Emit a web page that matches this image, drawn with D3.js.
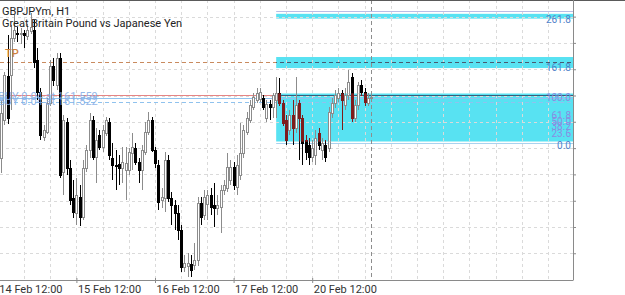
<!DOCTYPE html>
<html>
<head>
<meta charset="utf-8">
<script src="https://cdn.jsdelivr.net/npm/d3@7"></script>
<style>
  body { margin: 0; background: #fff; }
  svg { display: block; font-family: Roboto, "Noto Sans", sans-serif; }
</style>
</head>
<body>
<svg width="625" height="295"></svg>
<script>
// GBPJPYm H1 bars, index 0 = 14 Feb 12:00
var open = [161.460,161.076,161.380,161.732,161.740,162.036,162.076,162.068,162.076,162.052,
  162.092,162.100,161.860,161.604,161.244,161.284,161.516,161.812,161.660,161.876,
  160.964,161.364,160.996,160.756,160.636,160.764,160.604,160.996,161.140,161.380,
  161.084,161.260,161.164,161.276,161.364,161.076,161.020,161.028,160.996,160.980,
  160.980,161.116,161.156,161.044,160.980,161.124,161.284,161.380,161.140,161.020,
  160.740,160.756,161.060,160.756,160.700,160.636,160.500,160.204,160.212,160.228,
  160.220,160.260,160.716,160.620,160.708,160.780,160.700,160.676,160.684,160.820,
  160.836,160.900,161.004,160.844,160.940,161.116,161.284,161.380,161.484,161.540,
  161.548,161.556,161.396,161.508,161.484,161.540,161.596,161.516,161.380,161.300,
  161.420,161.316,161.516,161.396,161.220,161.180,161.084,161.100,161.276,161.140,
  161.180,161.156,161.436,161.516,161.556,161.596,161.500,161.580,161.724,161.396,
  161.500,161.660,161.604,161.516,161.556];
var high = [161.540,161.540,161.764,162.060,162.140,162.220,162.124,162.116,162.100,162.148,
  162.236,162.180,161.956,161.636,161.340,161.556,161.860,161.876,161.916,161.916,
  161.420,161.396,161.060,160.900,160.916,160.860,161.060,161.180,161.436,161.412,
  161.316,161.300,161.340,161.404,161.396,161.196,161.140,161.100,161.164,161.164,
  161.156,161.276,161.196,161.076,161.180,161.364,161.444,161.404,161.164,161.060,
  160.836,161.124,161.100,160.804,160.740,160.700,160.540,160.300,160.316,160.300,
  160.396,160.764,160.764,160.820,160.820,160.836,160.876,160.780,160.860,160.900,
  161.116,161.060,161.044,161.100,161.356,161.340,161.444,161.540,161.596,161.636,
  161.636,161.580,161.540,161.540,161.596,161.724,161.716,161.540,161.420,161.460,
  161.540,161.724,161.540,161.420,161.260,161.236,161.220,161.300,161.316,161.236,
  161.220,161.484,161.556,161.620,161.636,161.620,161.636,161.780,161.756,161.540,
  161.684,161.700,161.636,161.596,161.580];
var low = [161.020,160.956,161.340,161.348,161.460,162.004,162.004,161.988,161.956,162.020,
  162.068,161.796,161.540,161.220,161.212,161.268,161.492,161.652,161.620,160.916,
  160.780,160.940,160.700,160.596,160.540,160.532,160.580,160.964,161.076,161.060,
  160.876,161.140,161.124,161.252,161.060,160.900,160.820,160.860,160.876,160.740,
  160.940,160.980,161.020,160.876,160.820,161.100,161.260,161.124,160.996,160.660,
  160.676,160.644,160.724,160.540,160.500,160.420,160.164,160.164,160.124,160.124,
  160.180,160.212,160.540,160.580,160.580,160.620,160.524,160.620,160.476,160.780,
  160.804,160.860,160.820,160.780,160.900,161.076,161.260,161.356,161.460,161.516,
  161.524,161.460,161.364,161.380,161.396,161.396,161.492,161.332,161.180,161.260,
  161.180,161.276,161.060,161.020,161.060,161.020,161.044,161.020,161.140,161.060,
  161.044,161.124,161.396,161.476,161.524,161.300,161.460,161.540,161.364,161.364,
  161.460,161.572,161.492,161.492,161.540];
var close = [161.076,161.436,161.740,161.396,162.036,162.100,162.068,162.076,162.060,162.100,
  162.124,161.844,161.604,161.260,161.300,161.516,161.812,161.700,161.876,160.940,
  161.380,160.996,160.740,160.644,160.780,160.604,160.996,161.140,161.380,161.084,
  161.220,161.164,161.300,161.380,161.100,161.020,161.012,160.996,161.044,161.036,
  161.124,161.164,161.044,160.980,161.140,161.284,161.380,161.140,161.036,160.724,
  160.764,161.060,160.756,160.700,160.636,160.500,160.204,160.236,160.236,160.180,
  160.260,160.716,160.604,160.764,160.780,160.684,160.676,160.700,160.820,160.860,
  161.004,161.004,160.860,161.020,161.116,161.300,161.396,161.500,161.564,161.596,
  161.604,161.484,161.508,161.484,161.580,161.596,161.516,161.356,161.220,161.420,
  161.316,161.500,161.396,161.196,161.124,161.084,161.156,161.236,161.180,161.196,
  161.084,161.444,161.516,161.580,161.596,161.540,161.580,161.684,161.396,161.500,
  161.660,161.604,161.524,161.556,161.564];

var timeIdx = [0, 24, 48, 72, 96];
var timeLabels = ["14 Feb 12:00", "15 Feb 12:00", "16 Feb 12:00", "17 Feb 12:00", "20 Feb 12:00"];
var gridPrices = [160.314,160.524,160.734,160.945,161.155,161.366,161.576,161.786,161.997,162.207];

// trade lines
var askPrice = 161.580;
var buyPrices = [161.559, 161.522];
var buyLabels = ["BUY 0.04 at 161.559", "BUY 0.04 at 161.522"];
var tpPrice = 161.844;

// fibonacci object
var fibStartIdx = 85;
var fib0 = 161.208, fib100 = 161.592;
var fibLevels = [261.8, 161.8, 100.0, 61.8, 50.0, 38.2, 23.6, 0.0];
var fibBands = [[0, 100], [153, 176], [256, 266]];
var fibTopLine = 271;

var svg = d3.select("svg"),
    plotRight = 573, plotBottom = 280;

var x = d3.scaleLinear().domain([0, 176]).range([-2.2, 574.2]);
var y = d3.scaleLinear().domain([160.100, 162.340]).range([280, 0]);
var fibY = function(l) { return y(fib0 + (fib100 - fib0) * l / 100); };

var defs = svg.append("defs");
defs.append("clipPath").attr("id", "plotclip")
  .append("rect").attr("x", 0).attr("y", 0).attr("width", plotRight).attr("height", plotBottom);
defs.append("clipPath").attr("id", "boxclip")
  .append("rect").attr("x", x(fibStartIdx)).attr("y", fibY(100)).attr("width", plotRight - x(fibStartIdx))
  .attr("height", fibY(0) - fibY(100));
defs.append("clipPath").attr("id", "bandclip")
  .selectAll("rect").data(fibBands).enter().append("rect")
  .attr("x", x(fibStartIdx)).attr("width", plotRight - x(fibStartIdx))
  .attr("y", function(d) { return fibY(d[1]); })
  .attr("height", function(d) { return fibY(d[0]) - fibY(d[1]); });

var plot = svg.append("g").attr("clip-path", "url(#plotclip)");

// fib fills
plot.selectAll(".band").data(fibBands).enter().append("rect")
  .attr("x", x(fibStartIdx)).attr("width", plotRight - x(fibStartIdx))
  .attr("y", function(d) { return fibY(d[1]); })
  .attr("height", function(d) { return fibY(d[0]) - fibY(d[1]); })
  .attr("fill", "#58e2f2");

// grid
plot.selectAll(".hgrid").data(gridPrices).enter().append("line")
  .attr("x1", 0).attr("x2", plotRight)
  .attr("y1", function(d) { return Math.round(y(d)) + 0.5; })
  .attr("y2", function(d) { return Math.round(y(d)) + 0.5; })
  .attr("stroke", "#dadada").attr("stroke-dasharray", "3,3");
plot.selectAll(".vgrid").data(d3.range(8, 176, 8)).enter().append("line")
  .attr("x1", function(d) { return Math.round(x(d)) + 0.5; })
  .attr("x2", function(d) { return Math.round(x(d)) + 0.5; })
  .attr("y1", 0).attr("y2", plotBottom)
  .attr("stroke", "#dadada").attr("stroke-dasharray", "3,3");

// fib level lines
plot.append("line")
  .attr("x1", x(fibStartIdx)).attr("x2", plotRight)
  .attr("y1", Math.round(fibY(fibTopLine)) + 0.5).attr("y2", Math.round(fibY(fibTopLine)) + 0.5)
  .attr("stroke", "#b9bde6");
plot.append("line")
  .attr("x1", x(fibStartIdx)).attr("x2", plotRight)
  .attr("y1", Math.round(fibY(0)) + 1.5).attr("y2", Math.round(fibY(0)) + 1.5)
  .attr("stroke", "#a9d2ef");

// last bar marker
plot.append("line")
  .attr("x1", Math.round(x(open.length - 1)) + 0.5).attr("x2", Math.round(x(open.length - 1)) + 0.5)
  .attr("y1", 0).attr("y2", plotBottom)
  .attr("stroke", "#8d8d8d").attr("stroke-dasharray", "4,3");

// TP, buy, ask lines
plot.append("line")
  .attr("x1", 0).attr("x2", plotRight)
  .attr("y1", Math.round(y(tpPrice)) + 0.5).attr("y2", Math.round(y(tpPrice)) + 0.5)
  .attr("stroke", "#c98a5e").attr("stroke-dasharray", "4,3");
plot.append("line").attr("clip-path", "url(#bandclip)")
  .attr("x1", 0).attr("x2", plotRight)
  .attr("y1", Math.round(y(tpPrice)) + 0.5).attr("y2", Math.round(y(tpPrice)) + 0.5)
  .attr("stroke", "#4a5a70").attr("stroke-dasharray", "4,3");

plot.selectAll(".buy").data(buyPrices).enter().append("line")
  .attr("x1", 0).attr("x2", plotRight)
  .attr("y1", function(d) { return Math.round(y(d)) + 0.5; })
  .attr("y2", function(d) { return Math.round(y(d)) + 0.5; })
  .attr("stroke", "#8fc2ee")
  .attr("stroke-dasharray", function(d, i) { return i ? "4,3" : null; });

plot.append("line")
  .attr("x1", 0).attr("x2", plotRight)
  .attr("y1", Math.round(y(askPrice)) + 0.5).attr("y2", Math.round(y(askPrice)) + 0.5)
  .attr("stroke", "#e58585");
plot.append("line").attr("clip-path", "url(#boxclip)")
  .attr("x1", 0).attr("x2", plotRight)
  .attr("y1", Math.round(y(askPrice)) + 0.5).attr("y2", Math.round(y(askPrice)) + 0.5)
  .attr("stroke", "#3b5d78");

// candles
var bars = d3.range(open.length).map(function(i) {
  return {i: i, o: open[i], h: high[i], l: low[i], c: close[i]};
});

function drawCandles(g, bearColor) {
  var c = g.selectAll(".candle").data(bars).enter().append("g");
  c.append("line")
    .attr("x1", function(d) { return Math.round(x(d.i)) + 0.5; })
    .attr("x2", function(d) { return Math.round(x(d.i)) + 0.5; })
    .attr("y1", function(d) { return y(d.h); })
    .attr("y2", function(d) { return y(d.l); })
    .attr("stroke", function(d) { return d.c >= d.o ? "#8c8c8c" : bearColor; });
  c.append("rect")
    .attr("x", function(d) { return Math.round(x(d.i)) - 0.5; })
    .attr("width", 2)
    .attr("y", function(d) { return Math.round(y(Math.max(d.o, d.c))) + 0.5; })
    .attr("height", function(d) { return Math.max(1, Math.abs(y(d.o) - y(d.c))); })
    .attr("fill", function(d) { return d.c >= d.o ? "#fff" : bearColor; })
    .attr("stroke", function(d) { return d.c >= d.o ? "#8c8c8c" : bearColor; });
}
drawCandles(plot.append("g"), "#000");
drawCandles(plot.append("g").attr("clip-path", "url(#boxclip)"), "#7e1c1c");

// buy labels, TP label
plot.selectAll(".buylbl").data(buyPrices).enter().append("text")
  .attr("x", -2).attr("y", function(d) { return y(d) + 2.5; })
  .attr("font-size", 11).attr("fill", "#86aee6").attr("fill-opacity", 0.9)
  .text(function(d, i) { return buyLabels[i]; });
plot.append("text")
  .attr("x", 5).attr("y", y(tpPrice) - 5)
  .attr("font-size", 11).attr("font-weight", 500).attr("fill", "#d0823e")
  .text("TP");

// fib labels
svg.selectAll(".fiblbl").data(fibLevels).enter().append("text")
  .attr("x", 571).attr("y", function(d) { return fibY(d) + 7; })
  .attr("text-anchor", "end").attr("font-size", 10)
  .attr("fill", function(d) { return d > 0 && d <= 100 ? "#8b8ce2" : "#4f82c9"; })
  .text(function(d) { return d.toFixed(1); });

// frame and axes
svg.append("line").attr("x1", 0).attr("x2", 625).attr("y1", 0.5).attr("y2", 0.5).attr("stroke", "#5a5a5a");

var xAxis = svg.append("g")
  .attr("transform", "translate(0," + plotBottom + ")")
  .call(d3.axisBottom(x).tickValues(timeIdx).tickSize(3).tickSizeOuter(0)
    .tickFormat(function(d, i) { return timeLabels[i]; }));
xAxis.select(".domain").attr("d", "M0,0.5H" + (plotRight + 0.5)).attr("stroke", "#8a8a8a");
xAxis.selectAll(".tick line").attr("stroke", "#8a8a8a").attr("y1", -2);
xAxis.selectAll(".tick text")
  .attr("text-anchor", "start").attr("dx", 1).attr("y", 5)
  .attr("font-family", "Roboto, sans-serif").attr("font-size", 11).attr("fill", "#333");

var yAxis = svg.append("g")
  .attr("transform", "translate(" + plotRight + ",0)")
  .call(d3.axisRight(y).tickValues(gridPrices).tickSize(3).tickSizeOuter(0).tickFormat(""));
yAxis.select(".domain").attr("d", "M0.5,0V" + plotBottom).attr("stroke", "#8a8a8a");
yAxis.selectAll(".tick line").attr("stroke", "#8a8a8a");

// header
svg.append("text").attr("x", 2).attr("y", 15)
  .attr("font-size", 11).attr("fill", "#222").text("GBPJPYm, H1");
svg.append("text").attr("x", 2).attr("y", 27)
  .attr("font-size", 11).attr("fill", "#222").text("Great Britain Pound vs Japanese Yen");
</script>
</body>
</html>
